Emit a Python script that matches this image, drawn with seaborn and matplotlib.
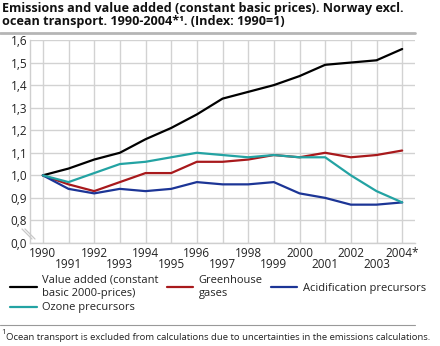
import numpy as np
import pandas as pd
import matplotlib
matplotlib.use("Agg")
import matplotlib.pyplot as plt
from matplotlib.lines import Line2D
import seaborn as sns

years = list(range(1990, 2005))
value_added = [1.00, 1.03, 1.07, 1.10, 1.16, 1.21, 1.27, 1.34, 1.37, 1.40, 1.44, 1.49, 1.50, 1.51, 1.56]
greenhouse = [1.00, 0.96, 0.93, 0.97, 1.01, 1.01, 1.06, 1.06, 1.07, 1.09, 1.08, 1.10, 1.08, 1.09, 1.11]
acidification = [1.00, 0.94, 0.92, 0.94, 0.93, 0.94, 0.97, 0.96, 0.96, 0.97, 0.92, 0.90, 0.87, 0.87, 0.88]
ozone = [1.00, 0.97, 1.01, 1.05, 1.06, 1.08, 1.10, 1.09, 1.08, 1.09, 1.08, 1.08, 1.00, 0.93, 0.88]

series_names = ["Value added (constant\nbasic 2000-prices)", "Greenhouse\ngases",
                "Acidification precursors", "Ozone precursors"]
colors = ["#000000", "#a8191c", "#1c3596", "#23a3a3"]
ytick_vals = [0.7, 0.8, 0.9, 1.0, 1.1, 1.2, 1.3, 1.4, 1.5, 1.6]
ytick_labels = ["0,0", "0,8", "0,9", "1,0", "1,1", "1,2", "1,3", "1,4", "1,5", "1,6"]
xtick_labels = [str(y) for y in years[:-1]] + ["2004*"]

df = pd.DataFrame({
    "year": years * 4,
    "value": value_added + greenhouse + acidification + ozone,
    "series": sum([[n] * len(years) for n in series_names], []),
})

sns.set_style("white")
plt.rcParams["font.family"] = ["Open Sans", "DejaVu Sans"]

W, H = 440, 346
fig = plt.figure(figsize=(W / 100, H / 100), dpi=100)
ax = fig.add_axes([30 / W, 1 - 243 / H, (415 - 30) / W, (243 - 40) / H])

sns.lineplot(data=df, x="year", y="value", hue="series", hue_order=series_names,
             palette=colors, linewidth=1.6, ax=ax, legend=False, zorder=3)

ax.set_xlim(1989.5, 2004.5)
ax.set_ylim(0.7, 1.6)
ax.set_xlabel("")
ax.set_ylabel("")
ax.set_yticks(ytick_vals)
ax.set_yticklabels(ytick_labels)
ax.set_xticks(years[0::2])
ax.set_xticklabels(xtick_labels[0::2])
ax.set_xticks(years[1::2], minor=True)
ax.set_xticklabels(xtick_labels[1::2], minor=True)
ax.tick_params(axis="x", which="major", length=0, pad=3, labelsize=8.5, colors="#222222")
ax.tick_params(axis="x", which="minor", length=0, pad=11, labelsize=8.5, colors="#222222")
ax.tick_params(axis="y", length=0, pad=2, labelsize=8.5, colors="#222222")
ax.grid(True, which="both", color="#d2d2d2", linewidth=1.0)
ax.set_axisbelow(True)
for s in ["top", "right"]:
    ax.spines[s].set_visible(False)
for s in ["left", "bottom"]:
    ax.spines[s].set_color("#cfcfcf")
    ax.spines[s].set_linewidth(1.0)

# axis break marks
for dx in (0, 3):
    fig.add_artist(Line2D([(22 + dx) / W, (32 + dx) / W], [1 - 229 / H, 1 - 239 / H],
                          color="#c8c8c8", linewidth=0.9))

# title
fig.text(2 / W, 1 - 2 / H,
         "Emissions and value added (constant basic prices). Norway excl.\nocean transport. 1990-2004*¹. (Index: 1990=1)",
         ha="left", va="top", fontsize=9.1, fontweight="bold", linespacing=1.0, color="#111111")
fig.add_artist(Line2D([0, 415 / W], [1 - 33 / H, 1 - 33 / H], color="#b5b5b5", linewidth=2))

# legend (ordered so columns fill row-wise)
handles = [Line2D([], [], color=c, linewidth=1.6) for c in colors]
order = [0, 3, 1, 2]
fig.legend([handles[i] for i in order], [series_names[i] for i in order],
           loc="upper left", bbox_to_anchor=(10 / W, 1 - 275 / H),
           ncol=3, frameon=False, fontsize=8, handlelength=2.4, handletextpad=0.5,
           columnspacing=0.7, borderpad=0, borderaxespad=0, labelspacing=0.35,
           labelcolor="#222222")

fig.add_artist(Line2D([0, 415 / W], [1 - 325 / H, 1 - 325 / H], color="#999999", linewidth=0.8))
fig.text(1 / W, 1 - 333 / H, "1", fontsize=5.5, ha="left", va="center", color="#222222")
fig.text(6 / W, 1 - 337 / H,
         "Ocean transport is excluded from calculations due to uncertainties in the emissions calculations.",
         fontsize=6.8, ha="left", va="center", color="#222222")

fig.savefig("out.png", dpi=100)
